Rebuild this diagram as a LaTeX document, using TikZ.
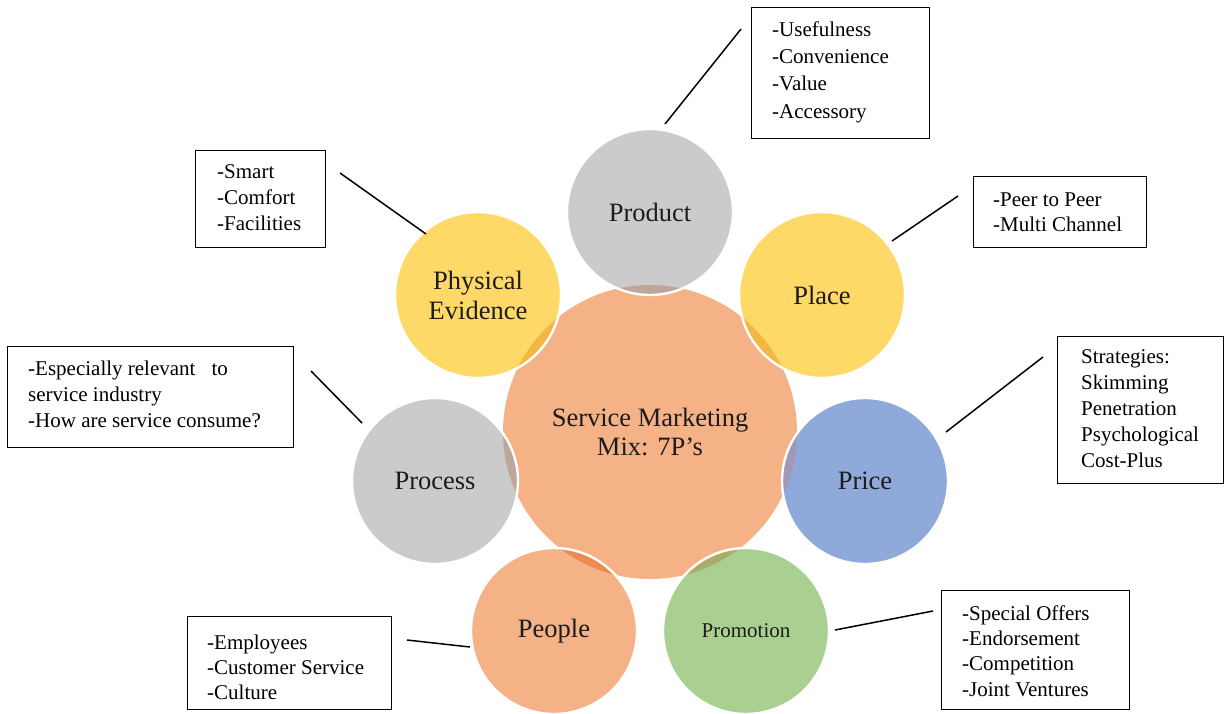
\documentclass[tikz,border=0pt]{standalone}
\usepackage{fontspec}
\setmainfont{Liberation Serif}
\begin{document}
\begin{tikzpicture}[x=1pt,y=-1pt]
% palette
\definecolor{coreorange}{RGB}{244,178,134}
\definecolor{pgray}{RGB}{203,203,203}
\definecolor{pyellow}{RGB}{255,217,104}
\definecolor{pblue}{RGB}{143,170,218}
\definecolor{pgreen}{RGB}{170,208,145}
\definecolor{porange}{RGB}{244,178,134}
\definecolor{lgray}{RGB}{192,166,154}
\definecolor{lyellow}{RGB}{243,184,66}
\definecolor{lblue}{RGB}{162,152,184}
\definecolor{lgreen}{RGB}{172,172,104}
\definecolor{lorange}{RGB}{234,140,80}
\definecolor{labelcol}{RGB}{28,28,28}

\tikzset{
  pcircle/.style={circle, minimum size=166pt, inner sep=0pt, text=labelcol,
    font=\fontsize{26.5}{30}\selectfont, align=center},
  infobox/.style={draw=black, line width=1.3pt, inner sep=0pt, anchor=north west},
  infotext/.style={anchor=north west, inner sep=0pt, align=left, text=black},
  link/.style={line width=1.5pt, black},
  rim/.style={draw=white, line width=2.4pt}
}

\useasboundingbox (0,0) rectangle (1224,713);

% central hub
\node[circle, minimum size=294pt, inner sep=0pt, fill=coreorange, text=labelcol,
      font=\fontsize{26.5}{28.5}\selectfont, align=center]
      (core) at (650,432) {Service Marketing\\Mix: 7P\symbol{39}s};

% the seven P circles
\node[pcircle, fill=pgray]   (product)  at (650,212) {Product};
\node[pcircle, fill=pyellow] (place)    at (822,295) {Place};
\node[pcircle, fill=pblue]   (price)    at (865,481) {Price};
\node[pcircle, fill=pgreen, font=\fontsize{21}{24}\selectfont] (promotion) at (746,631) {Promotion};
\node[pcircle, fill=porange] (people)   at (554,631) {People};
\node[pcircle, fill=pgray]   (process)  at (435,481) {Process};
\node[pcircle, fill=pyellow, font=\fontsize{26.5}{30}\selectfont] (physical) at (478,295) {Physical\\Evidence};

% darker lenses where each circle overlaps the hub
\begin{scope}
  \clip (core.center) circle (147);
  \fill[lgray]   (product.center)   circle (83);
  \fill[lyellow] (place.center)     circle (83);
  \fill[lblue]   (price.center)     circle (83);
  \fill[lgreen]  (promotion.center) circle (83);
  \fill[lorange] (people.center)    circle (83);
  \fill[lgray]   (process.center)   circle (83);
  \fill[lyellow] (physical.center)  circle (83);
\end{scope}
\foreach \c in {product,place,price,promotion,people,process,physical}
  \draw[rim] (\c.center) circle (83);

% information boxes
\node[infobox, minimum width=178pt, minimum height=131pt] (prodbox) at (751,7) {};
\node[infotext, font=\fontsize{21}{27.3}\selectfont] (prodtxt) at (772,16.9)
  {\strut -Usefulness\\-Convenience\\-Value\\-Accessory};

\node[infobox, minimum width=130pt, minimum height=97pt] (physbox) at (195,150) {};
\node[infotext, font=\fontsize{21}{26}\selectfont] (phystxt) at (217,159.8)
  {\strut -Smart\\-Comfort\\-Facilities};

\node[infobox, minimum width=173pt, minimum height=71pt] (placebox) at (973,176) {};
\node[infotext, font=\fontsize{21}{25}\selectfont] (placetxt) at (993,188.5)
  {\strut -Peer to Peer\\-Multi Channel};

\node[infobox, minimum width=286pt, minimum height=101pt] (procbox) at (7,346) {};
\node[infotext, font=\fontsize{21}{26}\selectfont] (proctxt) at (28,356.8)
  {\strut -Especially relevant\hspace{16pt}to\\service industry\\-How are service consume?};

\node[infobox, minimum width=166pt, minimum height=147pt] (pricebox) at (1057,336) {};
\node[infotext, font=\fontsize{21}{26}\selectfont] (pricetxt) at (1081,344.8)
  {\strut Strategies:\\Skimming\\Penetration\\Psychological\\Cost-Plus};

\node[infobox, minimum width=204pt, minimum height=93pt] (peoplebox) at (187,616) {};
\node[infotext, font=\fontsize{21}{25}\selectfont] (peopletxt) at (207,631.5)
  {\strut -Employees\\-Customer Service\\-Culture};

\node[infobox, minimum width=188pt, minimum height=119pt] (promobox) at (941,590) {};
\node[infotext, font=\fontsize{21}{25.3}\selectfont] (promotxt) at (962,602.3)
  {\strut -Special Offers\\-Endorsement\\-Competition\\-Joint Ventures};

% connector ends
\coordinate (prodA) at (665,124);   \coordinate (prodB) at (741,29);
\coordinate (physA) at (426,234);   \coordinate (physB) at (340,173);
\coordinate (placeA) at (892,241);  \coordinate (placeB) at (958,196);
\coordinate (procA) at (362,423);   \coordinate (procB) at (311,371);
\coordinate (priceA) at (946,432);  \coordinate (priceB) at (1043,357);
\coordinate (peopleA) at (470,647); \coordinate (peopleB) at (407,640);
\coordinate (promoA) at (835,630);  \coordinate (promoB) at (933,611);

\draw[link] (prodA) -- (prodB);
\draw[link] (physA) -- (physB);
\draw[link] (placeA) -- (placeB);
\draw[link] (procA) -- (procB);
\draw[link] (priceA) -- (priceB);
\draw[link] (peopleA) -- (peopleB);
\draw[link] (promoA) -- (promoB);
\end{tikzpicture}
\end{document}
